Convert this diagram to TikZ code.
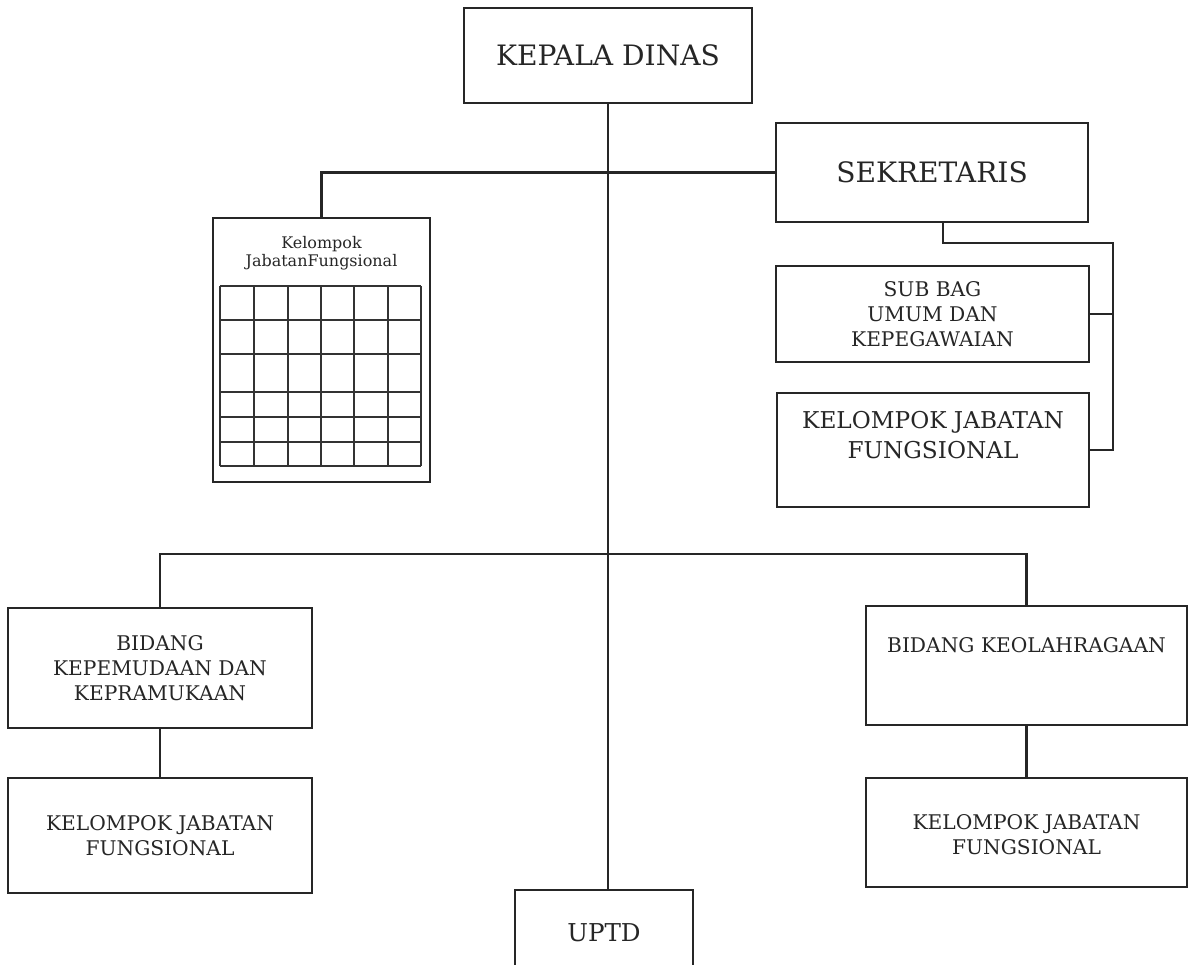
\documentclass[tikz,border=0pt]{standalone}
\usepackage{fontspec}
\setmainfont{DejaVu Serif}
\begin{document}
\begin{tikzpicture}[x=0.02cm,y=-0.02cm]
    \tikzstyle{box}=[rectangle, draw=black!85, line width=1.3pt, align=center, inner sep=0pt, text=black!85]
    \tikzstyle{edge}=[black!85, line width=1.3pt]
    \tikzstyle{cell}=[black!80, line width=0.6pt]
    \tikzstyle{big}=[font=\fontsize{16}{18}\selectfont]
    \tikzstyle{mid}=[font=\fontsize{13.2}{17}\selectfont]
    \tikzstyle{small}=[font=\fontsize{11.5}{14.2}\selectfont]

    \clip (0,0) rectangle (1190,964);

    \node[box, big, minimum width=5.76cm, minimum height=1.9cm] (kepala) at (608,55.5) {KEPALA DINAS};
    \node[box, big, minimum width=6.24cm, minimum height=1.98cm] (sekretaris) at (932,172.5) {SEKRETARIS};
    \node[box, small, minimum width=6.26cm, minimum height=1.92cm] (subbag) at (932.5,314) {SUB BAG\\UMUM DAN\\KEPEGAWAIAN};
    \node[box, mid, minimum width=6.24cm, minimum height=2.28cm] (kjfsek) at (933,450) {KELOMPOK JABATAN\\FUNGSIONAL\\ \mbox{}};
    \node[box, minimum width=4.34cm, minimum height=5.28cm,
          label={[anchor=north, label distance=-0.26cm, align=center, text=black!85, font=\fontsize{9.1}{10.2}\selectfont]north:Kelompok\\JabatanFungsional}] (kjfgrid) at (321.5,350) {};

    \node[box, small, minimum width=6.08cm, minimum height=2.4cm] (bidangpemuda) at (160,668) {BIDANG\\KEPEMUDAAN DAN\\KEPRAMUKAAN};
    \node[box, small, minimum width=6.08cm, minimum height=2.3cm] (kjfpemuda) at (160,835.5) {KELOMPOK JABATAN\\FUNGSIONAL};
    \node[box, small, minimum width=6.42cm, minimum height=2.38cm] (bidangolahraga) at (1026.5,665.5) {BIDANG KEOLAHRAGAAN\\[9pt]\mbox{}};
    \node[box, small, minimum width=6.42cm, minimum height=2.18cm] (kjfolahraga) at (1026.5,832.5) {\mbox{}\\[-3pt]KELOMPOK JABATAN\\FUNGSIONAL};
    \node[box, font=\fontsize{14}{16}\selectfont, minimum width=3.56cm, minimum height=1.72cm] (uptd) at (604,933) {UPTD};

    % grid of the functional group
    \foreach \x in {220,254,288,321,354,388,421}
        \draw[cell] (\x,286) -- (\x,466);
    \foreach \y in {286,320,354,392,417,442,466}
        \draw[cell] (220,\y) -- (421,\y);

    \coordinate (bus) at (608,554);
    \coordinate (rail) at (1113,243);

    \draw[edge] (kepala.south) -- (kepala.south |- uptd.north);
    \draw[edge] (sekretaris.west) -- (sekretaris.west -| kjfgrid.north) -- (kjfgrid.north);
    \draw[edge] (sekretaris.south) ++(11,0) |- (rail) |- (kjfsek.east);
    \draw[edge] (subbag.east) -- (subbag.east -| rail);
    \draw[edge] (bidangpemuda.north) -- (bidangpemuda.north |- bus) -- (bidangolahraga.north |- bus) -- (bidangolahraga.north);
    \draw[edge] (bidangpemuda.south) -- (kjfpemuda.north);
    \draw[edge] (bidangolahraga.south) -- (kjfolahraga.north);
\end{tikzpicture}
\end{document}
